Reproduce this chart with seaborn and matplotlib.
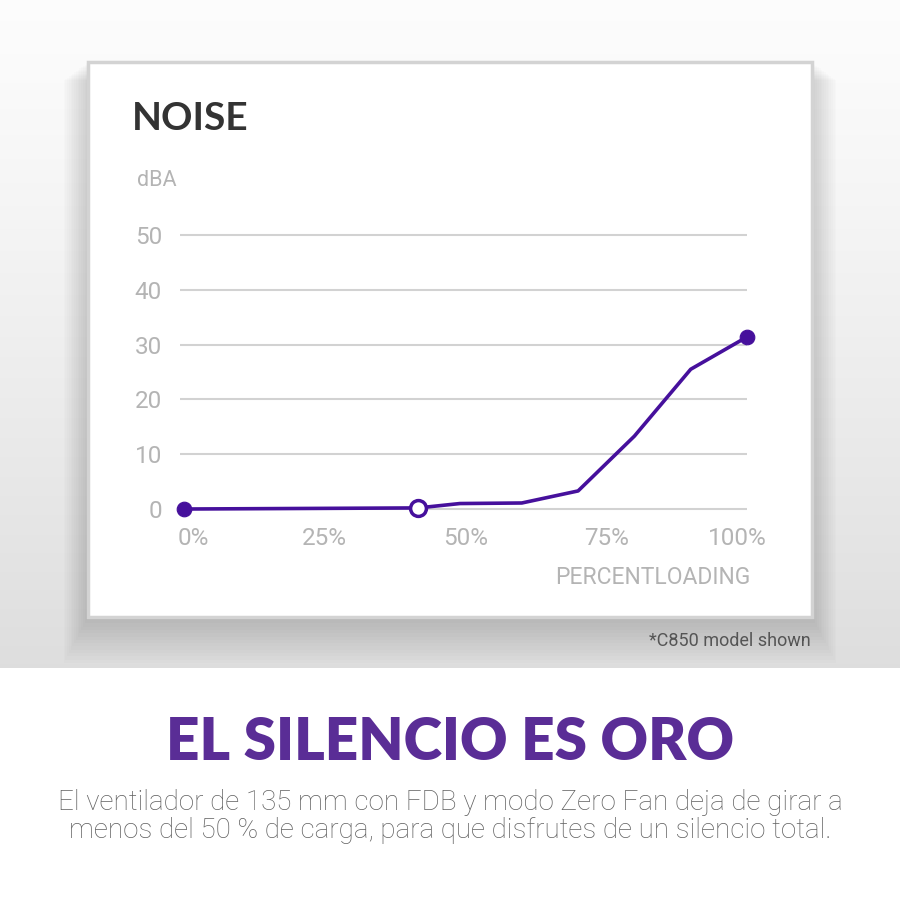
import numpy as np
import matplotlib
matplotlib.use("Agg")
import matplotlib.pyplot as plt
import matplotlib.transforms as mtransforms
from matplotlib.patches import Rectangle
import seaborn as sns

# Data
load_pct = [0, 41.6, 49, 60, 70, 80, 90, 100]
noise_dba = [0, 0.2, 1.0, 1.1, 3.3, 13.3, 25.5, 31.4]
x_ticks = [0, 25, 50, 75, 100]
x_tick_labels = ["0%", "25%", "50%", "75%", "100%"]
y_ticks = [0, 10, 20, 30, 40, 50]

PURPLE_LINE = "#46109c"
PURPLE_TITLE = "#5a2d96"
GRID = "#d2d2d2"
TICK_GREY = "#b4b4b4"

sns.set_theme(style="white")
plt.rcParams['font.family'] = ['Roboto', 'DejaVu Sans']

fig = plt.figure(figsize=(9, 9), dpi=100)

# Background layer in pixel coordinates
bg = fig.add_axes([0, 0, 1, 1], zorder=0)
bg.set_xlim(0, 900)
bg.set_ylim(900, 0)
bg.axis('off')

# grey gradient behind the card, white below
grad = np.linspace(0, 1, 256).reshape(-1, 1)
top_c = np.array([0.99, 0.99, 0.99])
bot_c = np.array([0.87, 0.87, 0.87])
img = top_c + (bot_c - top_c) * grad ** 1.2
img = np.repeat(img[:, None, :], 2, axis=1).reshape(256, 2, 3)
bg.imshow(img, extent=[0, 900, 668, 0], aspect='auto', zorder=0)
bg.add_patch(Rectangle((0, 668), 900, 232, facecolor='white', edgecolor='none', zorder=0))

# soft shadow of the card
for i in range(14):
    grow = 2 + i * 2.2
    bg.add_patch(Rectangle((88 - grow * 0.8, 62 + grow * 0.6), 724 + grow * 1.6, 555 + grow * 0.9,
                           facecolor='black', alpha=0.012, edgecolor='none', zorder=1))

# card
bg.add_patch(Rectangle((88, 62), 724, 555, facecolor='white', edgecolor='#d3d3d3',
                       linewidth=2.5, zorder=2))

bg.text(132, 118, "NOISE", fontsize=28, fontweight='bold', color='#333333',
        family=['Lato', 'DejaVu Sans'], ha='left', va='center', zorder=3)
bg.text(137, 181, "dBA", fontsize=15.5, color=TICK_GREY, ha='left', va='center', zorder=3)
bg.text(750, 577, "PERCENTLOADING", fontsize=16.5, color=TICK_GREY, ha='right', va='center', zorder=3)
bg.text(811, 641, "*C850 model shown", fontsize=13, color='#555555', ha='right', va='center', zorder=3)

bg.text(450, 743, "EL SILENCIO ES ORO", fontsize=42, fontweight='heavy', color=PURPLE_TITLE,
        family=['Lato', 'DejaVu Sans'], ha='center', va='center', zorder=3)
bg.text(450, 802, "El ventilador de 135 mm con FDB y modo Zero Fan deja de girar a",
        fontsize=20, color='#606060', fontweight='light', ha='center', va='center', zorder=3)
bg.text(450, 830, "menos del 50 % de carga, para que disfrutes de un silencio total.",
        fontsize=20, color='#606060', fontweight='light', ha='center', va='center', zorder=3)

# Chart axes
ax = fig.add_axes([180 / 900, 1 - 514.5 / 900, (747 - 180) / 900, (514.5 - 229.5) / 900], zorder=5)
ax.patch.set_alpha(0)
df_x = np.array(load_pct)
df_y = np.array(noise_dba)
sns.lineplot(x=df_x, y=df_y, ax=ax, color=PURPLE_LINE, linewidth=2.6, zorder=3)
sns.scatterplot(x=[load_pct[0], load_pct[-1]], y=[noise_dba[0], noise_dba[-1]], ax=ax,
                color=PURPLE_LINE, s=110, edgecolor=PURPLE_LINE, zorder=4, clip_on=False)
sns.scatterplot(x=[load_pct[1]], y=[noise_dba[1]], ax=ax, color='white', s=130,
                edgecolor=PURPLE_LINE, linewidth=2.5, zorder=4, clip_on=False)
for ln in ax.lines:
    ln.set_clip_on(False)

ax.set_xlim(-0.71, 100)
ax.set_ylim(-1, 51)
ax.set_yticks(y_ticks)
ax.set_xticks(x_ticks)
ax.set_xticklabels(x_tick_labels)
ax.yaxis.grid(True, color=GRID, linewidth=1.5)
ax.xaxis.grid(False)
ax.set_axisbelow(True)
for s in ax.spines.values():
    s.set_visible(False)
ax.tick_params(axis='both', length=0, labelsize=17.5, labelcolor=TICK_GREY)
ax.tick_params(axis='y', pad=13)
ax.tick_params(axis='x', pad=9)
ax.set_xlabel("")
ax.set_ylabel("")

# end labels sit a little inside, like the reference
labels = ax.get_xticklabels()
labels[0].set_transform(labels[0].get_transform() +
                        mtransforms.ScaledTranslation(9 / 100, 0, fig.dpi_scale_trans))
labels[-1].set_transform(labels[-1].get_transform() +
                         mtransforms.ScaledTranslation(-10 / 100, 0, fig.dpi_scale_trans))

fig.savefig("out.png", dpi=100)
